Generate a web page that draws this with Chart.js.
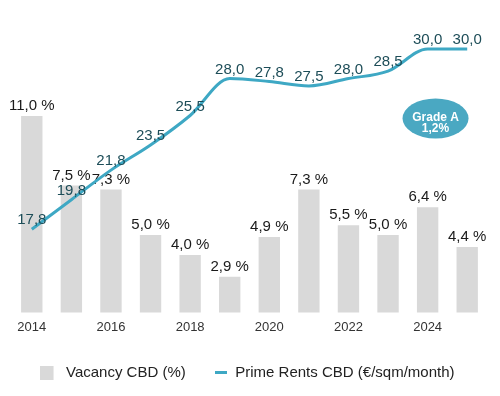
<!DOCTYPE html>
<html>
<head>
<meta charset="utf-8">
<script src="https://cdn.jsdelivr.net/npm/chart.js@4"></script>
<style>
  html, body { margin: 0; padding: 0; background: #fff; }
  #wrap { width: 500px; height: 396px; }
</style>
</head>
<body>
<div id="wrap"><canvas id="cbdChart"></canvas></div>
<script>
// data
const years = ['2014', '2015', '2016', '2017', '2018', '2019', '2020', '2021', '2022', '2023', '2024', '2025'];
const vacancy = [11.0, 7.5, 7.3, 5.0, 4.0, 2.9, 4.9, 7.3, 5.5, 5.0, 6.4, 4.4];
const rents = [17.8, 19.8, 21.8, 23.5, 25.5, 28.0, 27.8, 27.5, 28.0, 28.5, 30.0, 30.0];
const gradeA = ['Grade A', '1,2%'];

const FONT = '"Liberation Sans", Arial, sans-serif';
const BAR_COLOR = '#d9d9d9';
const LINE_COLOR = '#3ea8c4';

const fmt = v => v.toFixed(1).replace('.', ',');

// small canvases used as legend markers
const makeIcon = (w, h, color, fillW) => {
    const c = document.createElement('canvas');
    c.width = w; c.height = h;
    const g = c.getContext('2d');
    g.fillStyle = color;
    g.fillRect(0, 0, fillW || w, h);
    return c;
};
const barIcon = makeIcon(24, 14, BAR_COLOR, 14); // square sits on the left, a bit more gap before the text
const lineIcon = makeIcon(12, 3, LINE_COLOR);

// value labels, drawn right after each dataset
const valueLabels = {
    id: 'valueLabels',
    afterDatasetDraw(chart, args) {
        const ctx = chart.ctx;
        const ds = chart.data.datasets[args.index];
        const meta = args.meta;
        ctx.save();
        ctx.font = '15px ' + FONT;
        ctx.textAlign = 'center';
        ctx.textBaseline = 'middle';
        meta.data.forEach((el, i) => {
            const v = ds.data[i];
            if (ds.type === 'bar') {
                ctx.fillStyle = '#1a1a1a';
                ctx.fillText(fmt(v) + ' %', el.x, el.y - 10);
            } else {
                ctx.fillStyle = '#1d4d58';
                ctx.fillText(fmt(v), el.x, el.y - 9);
            }
        });
        ctx.restore();
    }
};

// "Grade A" bubble
const gradeBubble = {
    id: 'gradeBubble',
    afterDraw(chart) {
        const ctx = chart.ctx;
        const x = chart.scales.x.getPixelForValue(10.2);
        const y = chart.scales.yRent.getPixelForValue(25.3);
        ctx.save();
        ctx.fillStyle = '#4aa8c2';
        ctx.beginPath();
        ctx.ellipse(x, y, 33, 20, 0, 0, Math.PI * 2);
        ctx.fill();
        ctx.fillStyle = '#fff';
        ctx.font = 'bold 12px ' + FONT;
        ctx.textAlign = 'center';
        ctx.textBaseline = 'middle';
        ctx.fillText(gradeA[0], x, y - 1);
        ctx.fillText(gradeA[1], x, y + 10);
        ctx.restore();
    }
};

new Chart(document.getElementById('cbdChart').getContext('2d'), {
    data: {
        labels: years,
        datasets: [
            {
                type: 'bar',
                label: 'Vacancy CBD (%)',
                data: vacancy,
                backgroundColor: BAR_COLOR,
                yAxisID: 'yVac',
                categoryPercentage: 1,
                barPercentage: 0.54,
                order: 1
            },
            {
                type: 'line',
                label: 'Prime Rents CBD (€/sqm/month)',
                data: rents,
                borderColor: LINE_COLOR,
                backgroundColor: LINE_COLOR,
                borderWidth: 3,
                pointRadius: 0,
                cubicInterpolationMode: 'monotone',
                yAxisID: 'yRent',
                order: 0
            }
        ]
    },
    options: {
        responsive: true,
        maintainAspectRatio: false,
        animation: false,
        layout: { padding: { top: 10, left: 12, right: 13, bottom: 6 } },
        plugins: {
            tooltip: { enabled: false },
            legend: {
                position: 'bottom',
                labels: {
                    usePointStyle: true,
                    boxWidth: 14,
                    boxHeight: 14,
                    padding: 28,
                    color: '#222',
                    font: { family: FONT, size: 15 },
                    sort: (a, b) => a.datasetIndex - b.datasetIndex,
                    generateLabels(chart) {
                        const items = Chart.defaults.plugins.legend.labels.generateLabels(chart);
                        items.forEach(it => {
                            it.pointStyle = it.datasetIndex === 0 ? barIcon : lineIcon;
                        });
                        return items;
                    }
                }
            }
        },
        scales: {
            x: {
                grid: { display: false, drawTicks: false },
                border: { display: false },
                ticks: {
                    autoSkip: false,
                    maxRotation: 0,
                    padding: 7,
                    color: '#333',
                    font: { family: FONT, size: 13 },
                    callback: function (val, idx) {
                        return idx % 2 === 0 ? this.getLabelForValue(val) : '';
                    }
                },
                afterFit: scale => { scale.height -= 5; }
            },
            yVac: { display: false, min: 1.1, max: 16.35 },
            yRent: { display: false, position: 'right', min: 12.17, max: 32.64 }
        }
    },
    plugins: [valueLabels, gradeBubble]
});
</script>
</body>
</html>
